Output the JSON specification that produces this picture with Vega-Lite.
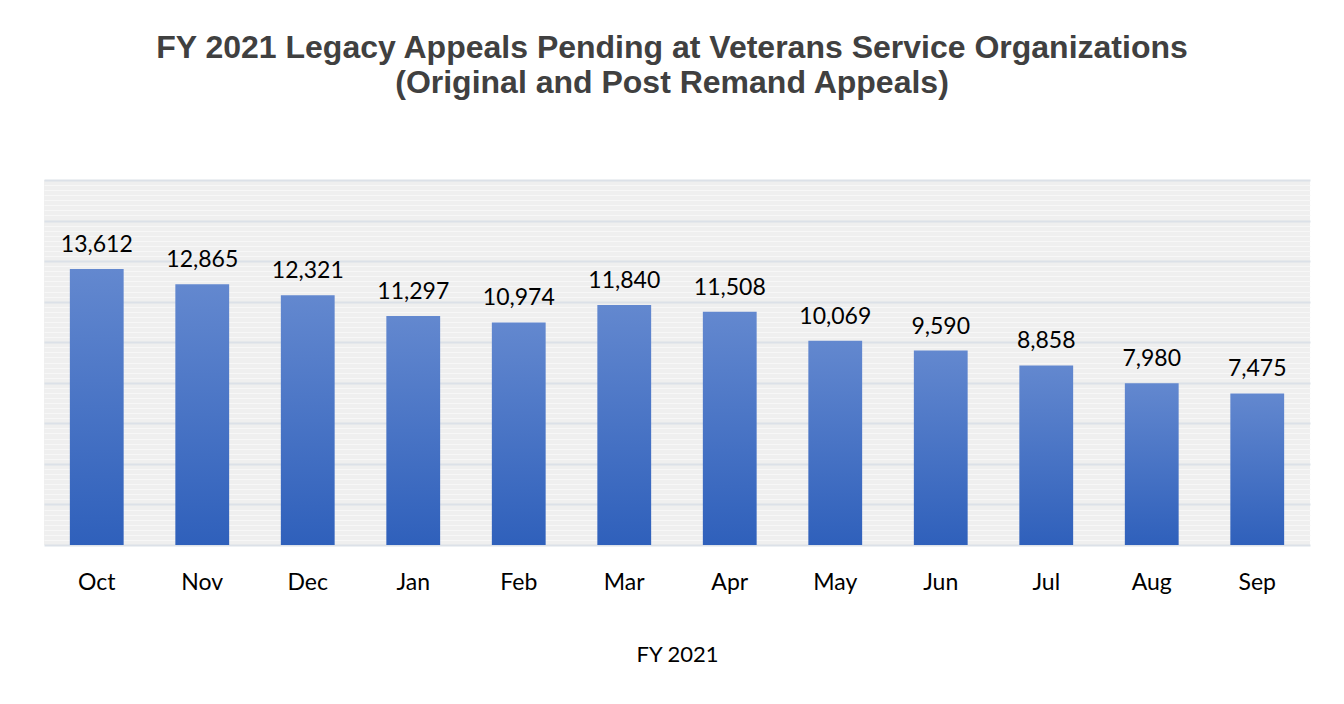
{
  "$schema": "https://vega.github.io/schema/vega-lite/v6.json",
  "autosize": {"type": "none"},
  "width": 1266,
  "height": 365,
  "padding": {"left": 44, "top": 180, "right": 34, "bottom": 159},
  "background": "#ffffff",
  "title": {
    "text": ["FY 2021 Legacy Appeals Pending at Veterans Service Organizations", "(Original and Post Remand Appeals)"],
    "font": "Liberation Sans",
    "fontSize": 32,
    "fontWeight": "bold",
    "color": "#404040",
    "anchor": "middle",
    "frame": "group",
    "dx": -5,
    "lineHeight": 35,
    "baseline": "alphabetic",
    "offset": 55
  },
  "data": {
    "values": [
      {"month": "Oct", "pending": 13612},
      {"month": "Nov", "pending": 12865},
      {"month": "Dec", "pending": 12321},
      {"month": "Jan", "pending": 11297},
      {"month": "Feb", "pending": 10974},
      {"month": "Mar", "pending": 11840},
      {"month": "Apr", "pending": 11508},
      {"month": "May", "pending": 10069},
      {"month": "Jun", "pending": 9590},
      {"month": "Jul", "pending": 8858},
      {"month": "Aug", "pending": 7980},
      {"month": "Sep", "pending": 7475}
    ]
  },
  "encoding": {
    "x": {
      "field": "month",
      "type": "nominal",
      "sort": null,
      "title": "FY 2021",
      "scale": {"paddingInner": 0.49, "paddingOuter": 0.245},
      "axis": {
        "domain": false,
        "ticks": false,
        "grid": false,
        "labelAngle": 0,
        "labelFont": "Lato",
        "labelFontSize": 23,
        "labelColor": "#000000",
        "labelPadding": 26,
        "titleFont": "Lato",
        "titleFontSize": 22,
        "titleFontWeight": "normal",
        "titleColor": "#000000",
        "titlePadding": 50
      }
    },
    "y": {
      "field": "pending",
      "type": "quantitative",
      "scale": {"domain": [0, 18000], "nice": false},
      "axis": {
        "title": null,
        "labels": false,
        "ticks": false,
        "domain": false,
        "grid": true,
        "values": [0,250,500,750,1000,1250,1500,1750,2000,2250,2500,2750,3000,3250,3500,3750,4000,4250,4500,4750,5000,5250,5500,5750,6000,6250,6500,6750,7000,7250,7500,7750,8000,8250,8500,8750,9000,9250,9500,9750,10000,10250,10500,10750,11000,11250,11500,11750,12000,12250,12500,12750,13000,13250,13500,13750,14000,14250,14500,14750,15000,15250,15500,15750,16000,16250,16500,16750,17000,17250,17500,17750,18000],
        "gridColor": {"condition": {"test": "datum.value % 2000 === 0", "value": "#dce1e8"}, "value": "#f7f7f7"},
        "gridWidth": {"condition": {"test": "datum.value % 2000 === 0", "value": 2}, "value": 1},
        "gridOpacity": 1
      }
    }
  },
  "layer": [
    {
      "mark": {
        "type": "bar",
        "color": {
          "gradient": "linear",
          "x1": 0, "y1": 0, "x2": 0, "y2": 1,
          "stops": [
            {"offset": 0, "color": "#6388cf"},
            {"offset": 1, "color": "#2f60bb"}
          ]
        }
      }
    },
    {
      "mark": {
        "type": "text",
        "font": "Lato",
        "fontSize": 23,
        "color": "#000000",
        "baseline": "alphabetic",
        "dy": -17
      },
      "encoding": {
        "text": {"field": "pending", "type": "quantitative", "format": ","}
      }
    }
  ],
  "config": {
    "view": {"fill": "#efefef", "stroke": null}
  }
}
